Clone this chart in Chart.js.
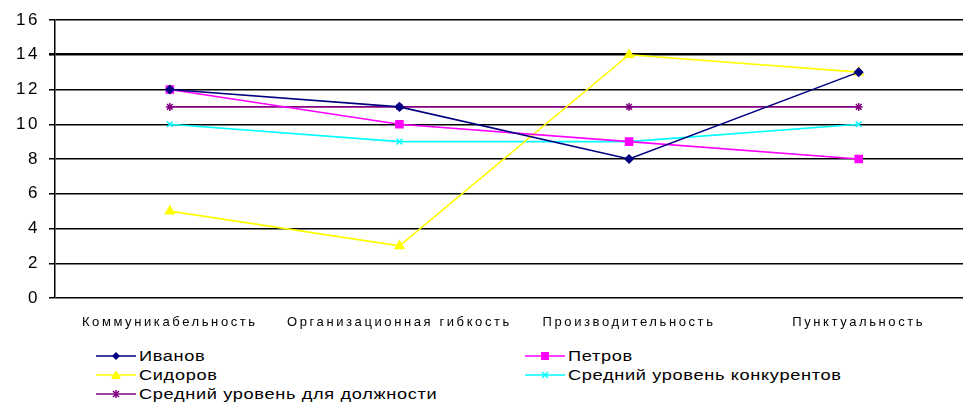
<!DOCTYPE html>
<html>
<head>
<meta charset="utf-8">
<script src="https://cdn.jsdelivr.net/npm/chart.js@4"></script>
<style>
body{margin:0;background:#fff;overflow:hidden;width:963px;height:404px;position:relative}
#wrap{position:absolute;left:0;top:0}
#legend{position:absolute;left:96px;top:346px;display:grid;grid-template-columns:429px 400px;font:14px "Liberation Sans",Arial,sans-serif;letter-spacing:0.5px;color:#000}
.item{height:19px;display:flex;align-items:center;white-space:nowrap}
.item svg{margin-right:3px}
.item span{display:inline-block;transform:scaleX(1.3);transform-origin:left center}
</style>
</head>
<body>
<div id="wrap"><canvas id="chart" width="980" height="330"></canvas></div>
<div id="legend"></div>
<script>
const categories = ["Коммуникабельность", "Организационная гибкость", "Производительность", "Пунктуальность"];
const seriesNames = ["Иванов", "Петров", "Сидоров", "Средний уровень конкурентов", "Средний уровень для должности"];
const ivanov = [12, 11, 8, 13];
const petrov = [12, 10, 9, 8];
const sidorov = [5, 3, 14, 13];
const competitors = [10, 9, 9, 10];
const positionLevel = [11, 11, 11, 11];
const yTicks = [0, 2, 4, 6, 8, 10, 12, 14, 16];

const colors = ['#000080', '#ff00ff', '#ffff00', '#00ffff', '#800080'];
const markers = ['rectRot', 'rect', 'triangle', 'crossRot', 'star'];
const sizes = [4, 5, 5, 4, 4];
const values = [ivanov, petrov, sidorov, competitors, positionLevel];

const datasets = values.map((v, i) => ({
    label: seriesNames[i],
    data: v,
    borderColor: colors[i],
    backgroundColor: colors[i],
    pointStyle: markers[i],
    pointRadius: sizes[i],
    pointBorderWidth: 1.5,
    borderWidth: 1.6,
    tension: 0,
}));

// stretched look of the original text
const spacing = {
    id: 'spacing',
    beforeInit(chart) { chart.ctx.letterSpacing = '2.6px'; },
    beforeDraw(chart) { chart.ctx.letterSpacing = '2.6px'; },
};

const chart = new Chart(document.getElementById('chart').getContext('2d'), {
    type: 'line',
    data: { labels: categories, datasets },
    plugins: [spacing],
    options: {
        responsive: false,
        devicePixelRatio: 1,
        animation: false,
        layout: { padding: { top: 20, right: 5, left: 0, bottom: 0 } },
        plugins: { legend: { display: false }, tooltip: { enabled: false } },
        scales: {
            x: {
                offset: true,
                grid: { display: false },
                border: { display: false },
                ticks: { color: '#000', padding: 9, maxRotation: 0, autoSkip: false,
                    font: { family: '"Liberation Sans", Arial, sans-serif', size: 13 } },
                afterFit(s) { s.height = 32; },
            },
            y: {
                min: 0, max: 16,
                afterBuildTicks(s) { s.ticks = yTicks.map(v => ({ value: v })); },
                grid: { color: '#000', tickLength: 6,
                    lineWidth: (c) => (c.tick && c.tick.value === 14 ? 2.6 : 1.5) },
                border: { color: '#000', width: 1.5 },
                ticks: { color: '#000', padding: 9,
                    font: { family: '"Liberation Sans", Arial, sans-serif', size: 17 } },
                afterFit(s) { s.width = 55; },
            },
        },
    },
});

const svgMarker = (i) => {
    const c = colors[i];
    const line = `<line x1="0" y1="7" x2="40" y2="7" stroke="${c}" stroke-width="1.6"/>`;
    let m = '';
    if (i === 0) m = `<polygon points="20,3 24,7 20,11 16,7" fill="${c}"/>`;
    if (i === 1) m = `<rect x="16" y="3" width="8" height="8" fill="${c}"/>`;
    if (i === 2) m = `<polygon points="20,2 25,11 15,11" fill="${c}"/>`;
    if (i === 3) m = `<path d="M17,4 L23,10 M23,4 L17,10" stroke="${c}" stroke-width="1.5"/>`;
    if (i === 4) m = `<path d="M17,4 L23,10 M23,4 L17,10 M20,3 L20,11" stroke="${c}" stroke-width="1.5"/>`;
    return `<svg width="40" height="14">${line}${m}</svg>`;
};

document.getElementById('legend').innerHTML = chart.data.datasets
    .map((d, i) => `<div class="item">${svgMarker(i)}<span>${d.label}</span></div>`)
    .join('');
</script>
</body>
</html>
